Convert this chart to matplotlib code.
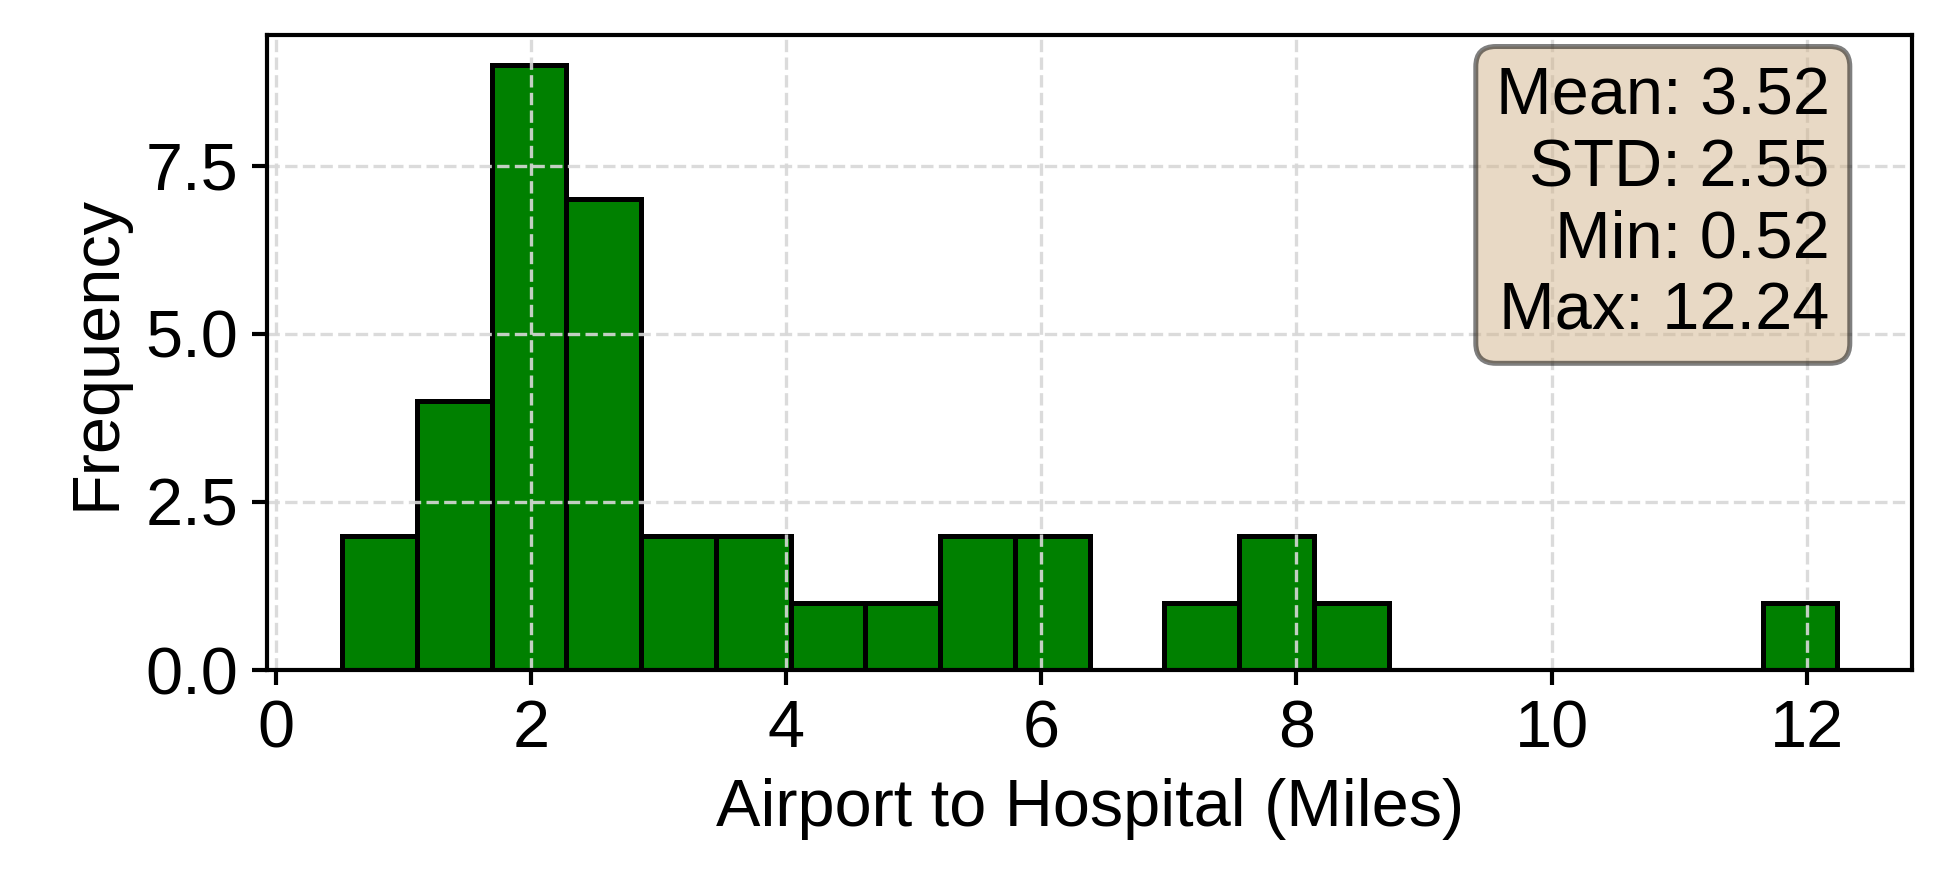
import numpy as np
import matplotlib
matplotlib.use("Agg")
import matplotlib.pyplot as plt

plt.rcParams['font.family'] = ['Liberation Sans', 'DejaVu Sans']
plt.rcParams['font.size'] = 16
plt.rcParams['axes.linewidth'] = 1.0
plt.rcParams['xtick.major.width'] = 1.0
plt.rcParams['ytick.major.width'] = 1.0

# histogram of airport-to-hospital distances (20 bins between min and max)
dist_min = 0.52
dist_max = 12.24
counts = [2, 4, 9, 7, 2, 2, 1, 1, 2, 2, 0, 1, 2, 1, 0, 0, 0, 0, 0, 1]
stats_labels = ["Mean", "STD", "Min", "Max"]
stats_values = [3.52, 2.55, 0.52, 12.24]

edges = np.linspace(dist_min, dist_max, len(counts) + 1)

fig, ax = plt.subplots(figsize=(6.46, 2.97), dpi=300)
ax.hist(edges[:-1], bins=edges, weights=counts, color='green', edgecolor='black', linewidth=1.2)

ax.set_xlabel("Airport to Hospital (Miles)")
ax.set_ylabel("Frequency")
ax.set_yticks([0, 2.5, 5.0, 7.5])
ax.grid(True, linestyle='--', color='#d8d8d8', alpha=0.9, linewidth=0.8)

txt = "\n".join(f"{l}: {v:.2f}" for l, v in zip(stats_labels, stats_values))
ax.text(0.95, 0.95, txt, transform=ax.transAxes, ha='right', va='top',
        bbox=dict(boxstyle='round', facecolor='tan', alpha=0.5, linewidth=1.2))

fig.subplots_adjust(left=0.138, right=0.9866, top=0.961, bottom=0.248)
fig.savefig("out.png", dpi=300)
